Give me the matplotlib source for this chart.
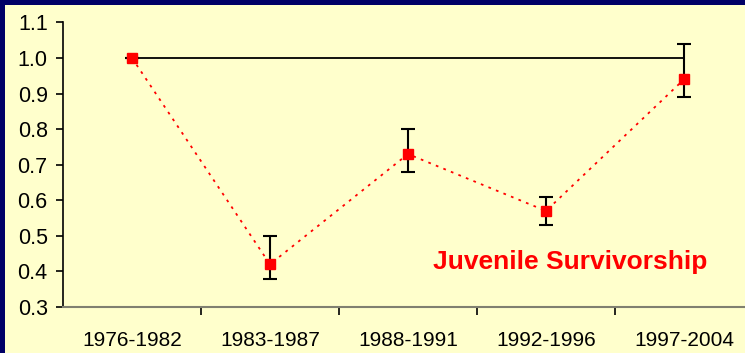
import matplotlib.pyplot as plt
import matplotlib.patches as mpatches

periods = ['1976-1982', '1983-1987', '1988-1991', '1992-1996', '1997-2004']
survival = [1.00, 0.42, 0.73, 0.57, 0.94]
err_lo = [1.00, 0.38, 0.68, 0.53, 0.89]   # lower end of error bar
err_hi = [1.00, 0.50, 0.80, 0.61, 1.04]   # upper end of error bar
baseline = 1.0

NAVY = '#000066'
CREAM = '#FFFFCC'

plt.rcParams['font.family'] = ['Liberation Sans', 'DejaVu Sans']

fig = plt.figure(figsize=(7.45, 3.53), dpi=100, facecolor=NAVY)
fig.patches.append(mpatches.Rectangle((5 / 745, 0), 1, 348 / 353,
                                      transform=fig.transFigure,
                                      facecolor=CREAM, edgecolor='none', zorder=-10))

ax = fig.add_axes([63 / 745, 46 / 353, 690 / 745, 284.6 / 353])
ax.set_facecolor(CREAM)

x = list(range(len(periods)))

# reference line at 1.0
ax.plot([x[0], x[-1]], [baseline, baseline], color='black', lw=1.3, zorder=2)

# error bars
yerr = [[s - lo for s, lo in zip(survival, err_lo)],
        [hi - s for s, hi in zip(survival, err_hi)]]
ax.errorbar(x, survival, yerr=yerr, fmt='none', ecolor='black',
            elinewidth=1.5, capsize=5, capthick=1.5, zorder=3)

# dotted series with square markers
ax.plot(x, survival, color='red', lw=1.3, linestyle=(0, (1.5, 3)),
        marker='s', markersize=7, markerfacecolor='red',
        markeredgecolor='red', zorder=4)

ax.set_xlim(-0.5, 4.5)
ax.set_ylim(0.3, 1.1)
ax.set_yticks([0.3, 0.4, 0.5, 0.6, 0.7, 0.8, 0.9, 1.0, 1.1])
ax.set_yticklabels([f'{v:.1f}' for v in ax.get_yticks()])
ax.set_xticks(x)
ax.set_xticklabels(periods)
ax.set_xticks([0.5, 1.5, 2.5, 3.5], minor=True)
ax.tick_params(axis='x', which='major', length=0, pad=17, labelsize=15)
ax.tick_params(axis='x', which='minor', length=6, width=1.2, color='black')
ax.tick_params(axis='y', length=5, width=1.2, labelsize=15.5, pad=6)

for side in ['top', 'right']:
    ax.spines[side].set_visible(False)
ax.spines['left'].set_color('black')
ax.spines['left'].set_linewidth(1.2)
ax.spines['bottom'].set_color('#808070')
ax.spines['bottom'].set_linewidth(1.5)

ax.text(0.735, 0.158, 'Juvenile Survivorship', transform=ax.transAxes,
        ha='center', va='center', color='red', fontsize=19, fontweight='bold')

fig.savefig('out.png', dpi=100, facecolor=NAVY)
